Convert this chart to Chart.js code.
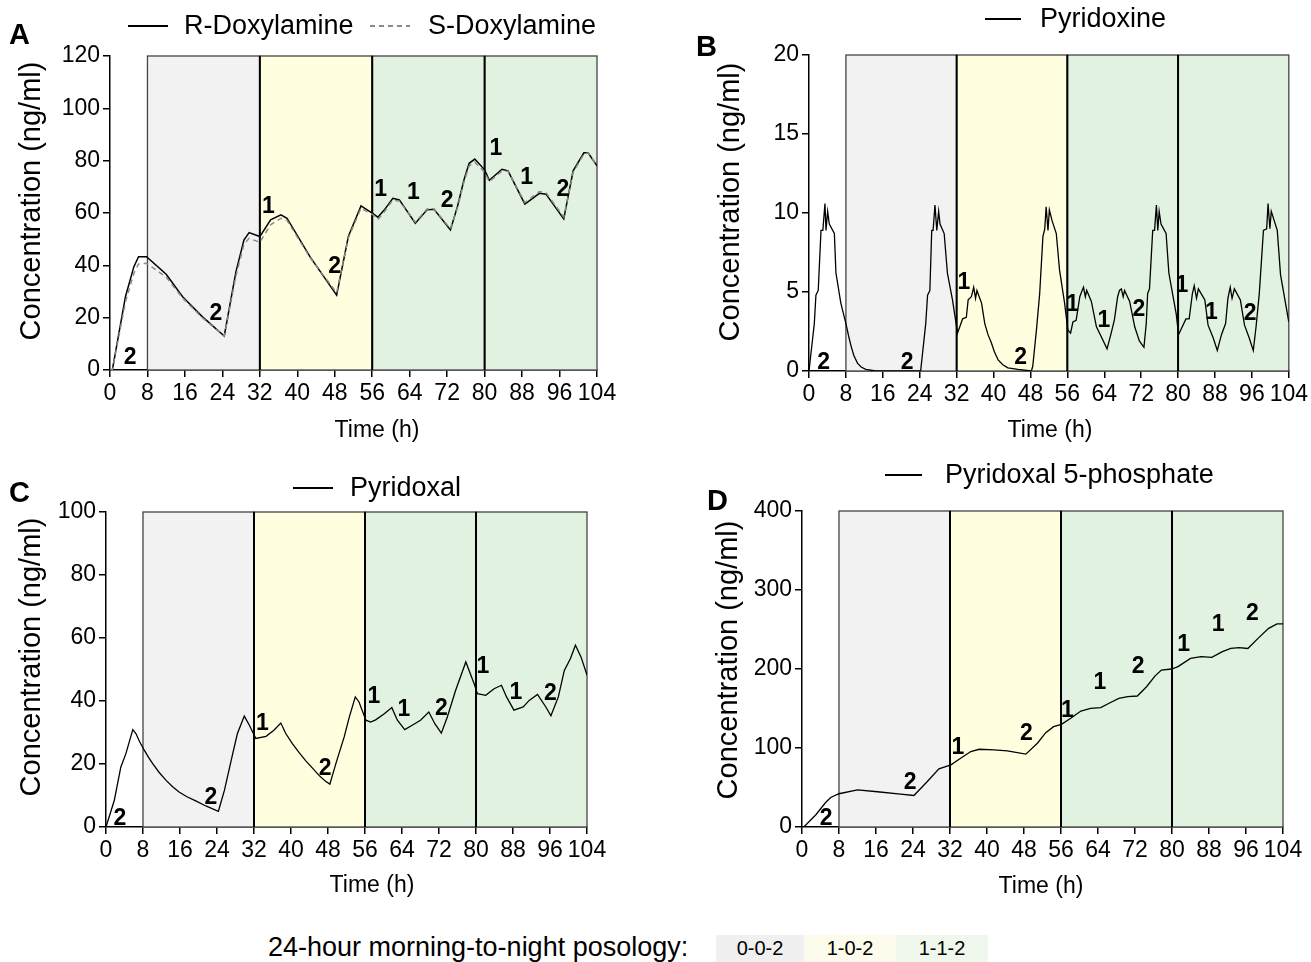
<!DOCTYPE html>
<html lang="en">
<head>
<meta charset="UTF-8">
<title>Doxylamine / pyridoxine concentration profiles</title>
<script src="https://cdn.jsdelivr.net/npm/chart.js"></script>
<style>
  body { margin: 0; background: #fff; font-family: 'Liberation Sans', Arial, sans-serif; color: #000; }
  #fig { position: relative; width: 1311px; height: 962px; overflow: hidden; }
  canvas { position: absolute; }
  .letter { position: absolute; font-weight: bold; font-size: 29px; line-height: 30px; }
  .leg { position: absolute; font-size: 27px; line-height: 30px; white-space: nowrap; }
  .sw { position: absolute; width: 40px; height: 1.5px; background: #000; }
  .sw.dash { background: repeating-linear-gradient(to right, #8a8a8a 0 5px, transparent 5px 9px); }
  .xt, .yt { position: absolute; white-space: nowrap; line-height: 30px; }
  .xt { font-size: 23px; transform: translate(-50%, -50%); }
  .yt { font-size: 29px; transform: translate(-50%, -50%) rotate(-90deg); }
  .pos { position: absolute; top: 935px; height: 27px; font-size: 20px; line-height: 27px; text-align: center; }
</style>
</head>
<body>
<div id="fig">
  <canvas id="cA" width="655" height="450" style="left:0;top:0"></canvas>
  <canvas id="cB" width="611" height="450" style="left:700px;top:0"></canvas>
  <canvas id="cC" width="655" height="450" style="left:0;top:450px"></canvas>
  <canvas id="cD" width="611" height="450" style="left:700px;top:450px"></canvas>

  <div class="letter" style="left:9px;top:19px">A</div>
  <div class="letter" style="left:696px;top:31px">B</div>
  <div class="letter" style="left:9px;top:477px">C</div>
  <div class="letter" style="left:707px;top:485px">D</div>

  <div class="yt" style="left:30px;top:201px">Concentration (ng/ml)</div>
  <div class="yt" style="left:729px;top:202px">Concentration (ng/ml)</div>
  <div class="yt" style="left:30px;top:657px">Concentration (ng/ml)</div>
  <div class="yt" style="left:727px;top:660px">Concentration (ng/ml)</div>

  <div class="xt" style="left:377px;top:429px">Time (h)</div>
  <div class="xt" style="left:1050px;top:429px">Time (h)</div>
  <div class="xt" style="left:372px;top:884px">Time (h)</div>
  <div class="xt" style="left:1041px;top:885px">Time (h)</div>

  <div class="sw" style="left:128px;top:25px"></div>
  <div class="leg" style="left:184px;top:10px">R-Doxylamine</div>
  <div class="sw dash" style="left:370px;top:25px"></div>
  <div class="leg" style="left:428px;top:10px">S-Doxylamine</div>

  <div class="sw" style="left:985px;top:18px;width:36px"></div>
  <div class="leg" style="left:1040px;top:3px">Pyridoxine</div>

  <div class="sw" style="left:293px;top:487px"></div>
  <div class="leg" style="left:350px;top:472px">Pyridoxal</div>

  <div class="sw" style="left:885px;top:474px;width:37px"></div>
  <div class="leg" style="left:945px;top:459px">Pyridoxal 5-phosphate</div>

  <div class="leg" style="left:268px;top:932px">24-hour morning-to-night posology:</div>
  <div class="pos" style="left:716px;width:88px;background:#f0f0f0">0-0-2</div>
  <div class="pos" style="left:804px;width:92px;background:#fdfbec">1-0-2</div>
  <div class="pos" style="left:896px;width:92px;background:#f0f8ee">1-1-2</div>
</div>

<script>
// posology periods (h)
const regionStart = [8, 32, 56, 80];
const regionEnd = [32, 56, 80, 104];
const regionFill = ['#f2f2f2', '#ffffe0', '#e2f2e0', '#e2f2e0'];

// dose numbers written on every panel, in time order
const doseTxt = ['2', '2', '1', '2', '1', '1', '2', '1', '1', '2'];

// A: doxylamine enantiomers
const tA = [0, 0.5, 3.3, 5.1, 6.1, 7.8, 12, 15.5, 19.7, 24.4, 26.9, 28.6, 29.7, 32, 34.3, 36.5, 37.8, 42.7, 48.4, 50.9, 53.6, 56, 57.2, 58.6, 60.4, 61.8, 65.2, 67.7, 69.2, 72.7, 74.2, 75.6, 76.7, 77.9, 80, 81, 83.7, 85, 88.6, 91.7, 93.1, 96.9, 98.9, 101.2, 102.1, 104];
const rDox = [0, 0, 28, 39.5, 43.3, 43.3, 36.6, 28, 20.4, 13, 37.6, 49.7, 52.5, 51, 57.4, 59.3, 58, 43.3, 28.6, 51, 62.7, 60, 58.4, 61.2, 65.6, 65, 56.1, 61.2, 61.4, 53.5, 62.5, 72.7, 79, 80.6, 76.5, 72.5, 76.7, 76.1, 63.4, 67.5, 67.2, 57.7, 76.1, 83, 83, 78];
const sDox = [0, 0, 26, 37, 40.5, 40.8, 35.5, 27.5, 20, 13, 36, 48, 50.3, 48.8, 55.5, 58, 57.2, 43, 29.5, 50.5, 61.8, 59.5, 57.5, 60.5, 65, 64.5, 56.5, 61.5, 61.5, 54, 62, 72, 78, 79.5, 75.5, 72, 76, 76, 64, 68.2, 67.8, 58.5, 75.5, 82.5, 83, 78];
const doseTA = [4.3, 22.6, 33.8, 48, 57.8, 64.8, 72, 82.4, 89, 96.7];
const doseVA = [4.6, 21.6, 62.5, 39.4, 69.1, 67.6, 64.7, 84.7, 73.5, 69.1];

// B: pyridoxine
const tB = [0, 0.2, 1.15, 1.5, 2.0, 2.6, 3.0, 3.46, 3.68, 4.04, 4.4, 5.5, 5.84, 6.9, 8.0, 8.6, 9.1, 9.7, 10.5, 11.3, 12.3, 14.5, 24.2,
  25.3, 25.7, 26.2, 26.6, 26.9, 27.3, 27.7, 28.1, 28.4, 29.3, 30.0, 31.1, 32.2,
  33.3, 34.1, 34.5, 35.2, 35.7, 36.1, 36.4, 37.4, 38.1, 38.8, 39.5, 40.2, 41.0, 42.0, 43.1, 45.3, 48.2,
  48.5, 49.3, 50.0, 50.7, 51.1, 51.4, 51.8, 52.1, 52.7, 53.6, 54.3, 55.4, 56.1,
  56.7, 57.2, 57.9, 58.7, 59.2, 59.5, 59.9, 60.2, 61.2, 62.3, 63.3, 64.6, 65.5, 66.2, 66.9, 67.3, 67.7, 68.1, 68.4, 69.5, 70.6, 71.6, 72.6,
  73.1, 73.4, 73.8, 74.5, 74.9, 75.3, 75.6, 75.9, 76.3, 77.4, 78.0, 78.8, 79.6, 80.1,
  81.7, 82.4, 83.1, 83.5, 84.0, 84.4, 85.8, 86.5, 87.6, 88.5, 89.4, 90.3, 90.8, 91.3, 91.7, 92.2, 93.5, 94.4, 95.4, 96.3,
  96.9, 97.6, 98.5, 99.2, 99.5, 99.9, 100.2, 101.5, 102.2, 104];
const pyridoxine = [0, 0, 3.0, 4.8, 5.1, 8.9, 8.9, 10.6, 8.9, 10.1, 9.3, 8.7, 6.2, 4.3, 3.0, 2.2, 1.6, 1.0, 0.5, 0.25, 0.1, 0, 0,
  3.0, 4.8, 5.1, 8.9, 8.9, 10.5, 8.9, 10.1, 9.3, 8.7, 6.2, 4.5, 2.4,
  3.3, 3.4, 4.5, 4.7, 5.3, 4.6, 5.1, 4.3, 3.0, 2.3, 1.8, 1.2, 0.7, 0.4, 0.2, 0.1, 0,
  0.3, 2.6, 4.9, 8.5, 9.0, 10.4, 8.9, 10.2, 9.5, 8.7, 6.4, 4.3, 2.6,
  2.4, 3.1, 3.2, 4.7, 5.1, 5.3, 4.7, 5.1, 4.4, 2.8, 2.2, 1.4, 2.4, 3.25, 4.7, 5.1, 5.2, 4.7, 5.1, 4.4, 2.8, 1.9, 1.5,
  3.0, 4.9, 5.2, 8.9, 8.9, 10.5, 8.9, 10.1, 9.3, 8.7, 6.2, 4.9, 3.6, 2.3,
  3.3, 3.3, 4.9, 5.4, 4.6, 5.2, 4.5, 2.9, 2.1, 1.3, 2.3, 3.0, 4.6, 5.3, 4.6, 5.2, 4.5, 2.9, 2.1, 1.3,
  2.8, 4.9, 8.9, 9.0, 10.6, 9.0, 10.1, 8.9, 6.1, 3.1];
const doseTB = [3.2, 21.3, 33.6, 45.9, 57.1, 63.9, 71.5, 80.8, 87.2, 95.6];
const doseVB = [0.55, 0.55, 5.6, 0.86, 4.2, 3.2, 3.9, 5.4, 3.7, 3.6];

// C: pyridoxal
const tC = [0, 0.15, 1.8, 3.2, 4.3, 5.8, 6.5, 7.3, 8.3, 9.2, 10.1, 11.5, 13.0, 14.4, 15.8, 17.5, 19.4, 21.7, 24.3, 25.6, 27.4, 28.4, 29.9, 31.0, 32.4, 34.6, 36.3, 37.8, 38.9, 40.3, 41.8, 43.2, 44.7, 46.1, 47.4, 48.4, 49.7, 51.5, 52.6, 53.9, 54.7, 56.2, 57.2, 58.3, 60.1, 61.8, 63.0, 64.6, 66.2, 68.0, 69.8, 71.1, 72.5, 73.8, 75.6, 77.8, 79.6, 80.3, 82.1, 83.9, 85.5, 86.6, 88.2, 90.2, 91.5, 93.3, 95.1, 96.2, 97.8, 99.1, 100.4, 101.5, 102.7, 104];
const pyridoxal = [0, 0, 8.5, 19.0, 23.3, 30.9, 29.6, 27.0, 24.3, 22.1, 20.1, 17.3, 14.8, 12.8, 11.1, 9.6, 8.3, 6.6, 5.0, 11.6, 23.3, 29.6, 35.2, 32.3, 28.1, 28.8, 30.7, 33.0, 29.6, 26.5, 23.5, 21.0, 18.6, 16.3, 14.6, 13.6, 20.1, 28.6, 34.9, 41.3, 39.7, 33.9, 33.3, 34.0, 35.9, 37.9, 33.9, 30.9, 32.3, 33.9, 36.5, 32.8, 29.8, 34.9, 43.4, 52.4, 45.5, 42.3, 41.8, 43.9, 45.0, 41.3, 37.1, 38.1, 40.2, 42.1, 38.1, 35.3, 41.3, 49.7, 53.4, 57.7, 54.0, 48.2];
const doseTC = [3.0, 22.7, 33.8, 47.4, 57.9, 64.4, 72.5, 81.5, 88.6, 96.1];
const doseVC = [2.7, 9.4, 32.8, 18.6, 41.3, 37.3, 37.6, 50.8, 42.6, 42.3];

// D: pyridoxal 5-phosphate
const tD = [0, 0.4, 3.0, 5.1, 6.2, 8.0, 12.0, 16.3, 21.3, 24.2, 27.1, 29.6, 32.2, 34.3, 36.5, 38.3, 41.5, 44.4, 48.4, 50.9, 52.7, 54.4, 56.1, 58.1, 60.3, 62.4, 64.6, 66.4, 68.5, 70.4, 72.5, 74.5, 76.3, 77.7, 79.9, 81.3, 84.0, 86.3, 88.6, 90.9, 92.7, 94.5, 96.4, 98.6, 100.9, 102.7, 104];
const plp = [0, 0, 15.5, 31, 37.4, 42.1, 47.1, 44.6, 41.6, 39.9, 57.6, 73.6, 78.7, 87.1, 95.5, 98.4, 97.6, 96.3, 92.2, 106, 119.4, 127, 130, 137.6, 146.8, 150.2, 151.1, 156.6, 162.9, 165, 165.8, 177.6, 191, 198.7, 200, 203, 213.5, 215.6, 214.8, 222, 226, 227, 226, 238.8, 251.5, 257, 257];
const doseTD = [5.2, 23.4, 33.7, 48.5, 57.4, 64.4, 72.7, 82.5, 90, 97.4];
const doseVD = [11, 56.5, 100.4, 117.7, 146.8, 183.1, 203, 230.4, 255.7, 270.5];

Chart.defaults.font.family = "'Liberation Sans', Arial, sans-serif";
Chart.defaults.color = '#000';

function pts(t, v) {
  return t.map((x, i) => ({ x: x, y: v[i] }));
}

// shaded posology boxes behind the curves, dose numbers on top
function overlay(doseT, doseV) {
  return {
    id: 'overlay',
    beforeDatasetsDraw(chart) {
      const { ctx, scales: { x, y } } = chart;
      const top = y.getPixelForValue(y.max);
      const bot = y.getPixelForValue(0);
      ctx.save();
      regionStart.forEach((s, i) => {
        const l = x.getPixelForValue(s);
        const r = x.getPixelForValue(regionEnd[i]);
        ctx.fillStyle = regionFill[i];
        ctx.fillRect(l, top, r - l, bot - top);
        ctx.strokeStyle = '#444';
        ctx.lineWidth = 1.3;
        ctx.strokeRect(l, top, r - l, bot - top);
      });
      ctx.strokeStyle = '#000';
      ctx.lineWidth = 2;
      regionStart.slice(1).forEach(s => {
        const px = x.getPixelForValue(s);
        ctx.beginPath();
        ctx.moveTo(px, top);
        ctx.lineTo(px, bot);
        ctx.stroke();
      });
      ctx.restore();
    },
    afterDatasetsDraw(chart) {
      const { ctx, scales: { x, y } } = chart;
      ctx.save();
      ctx.font = "bold 23px 'Liberation Sans', Arial, sans-serif";
      ctx.fillStyle = '#000';
      ctx.textAlign = 'center';
      ctx.textBaseline = 'middle';
      doseT.forEach((t, i) => {
        ctx.fillText(doseTxt[i], x.getPixelForValue(t), y.getPixelForValue(doseV[i]));
      });
      ctx.restore();
    }
  };
}

function panel(id, datasets, yMax, yStep, box, doseT, doseV) {
  const axisBits = {
    border: { display: true, color: '#000', width: 1.5 },
    grid: { display: true, drawOnChartArea: false, drawTicks: true, tickLength: 7, color: '#000', lineWidth: 1.5 }
  };
  new Chart(document.getElementById(id), {
    type: 'line',
    data: { datasets: datasets },
    options: {
      responsive: false,
      animation: false,
      events: [],
      layout: { padding: { top: box.top, right: box.right, left: 0, bottom: 0 } },
      plugins: { legend: { display: false }, tooltip: { enabled: false } },
      elements: { point: { radius: 0 }, line: { tension: 0, borderWidth: 1.5 } },
      scales: {
        x: Object.assign({
          type: 'linear', min: 0, max: 104,
          ticks: { stepSize: 8, autoSkip: false, maxRotation: 0, padding: 3, font: { size: 23 } },
          afterFit: s => { s.height = box.xh; }
        }, axisBits),
        y: Object.assign({
          min: 0, max: yMax,
          ticks: { stepSize: yStep, padding: 3, font: { size: 23 } },
          afterFit: s => { s.width = box.yw; }
        }, axisBits)
      }
    },
    plugins: [overlay(doseT, doseV)]
  });
}

panel('cA', [
  { label: 'S-Doxylamine', data: pts(tA, sDox), borderColor: '#8a8a8a', borderDash: [5, 4], order: 0 },
  { label: 'R-Doxylamine', data: pts(tA, rDox), borderColor: '#000', order: 1 }
], 120, 20, { top: 56, right: 58, yw: 110, xh: 80 }, doseTA, doseVA);

panel('cB', [
  { label: 'Pyridoxine', data: pts(tB, pyridoxine), borderColor: '#000', borderWidth: 1.3 }
], 20, 5, { top: 55, right: 21, yw: 109, xh: 79 }, doseTB, doseVB);

panel('cC', [
  { label: 'Pyridoxal', data: pts(tC, pyridoxal), borderColor: '#000', borderWidth: 1.3 }
], 100, 20, { top: 62, right: 68, yw: 106, xh: 73 }, doseTC, doseVC);

panel('cD', [
  { label: 'Pyridoxal 5-phosphate', data: pts(tD, plp), borderColor: '#000', borderWidth: 1.3 }
], 400, 100, { top: 61, right: 28, yw: 102, xh: 73 }, doseTD, doseVD);
</script>
</body>
</html>
